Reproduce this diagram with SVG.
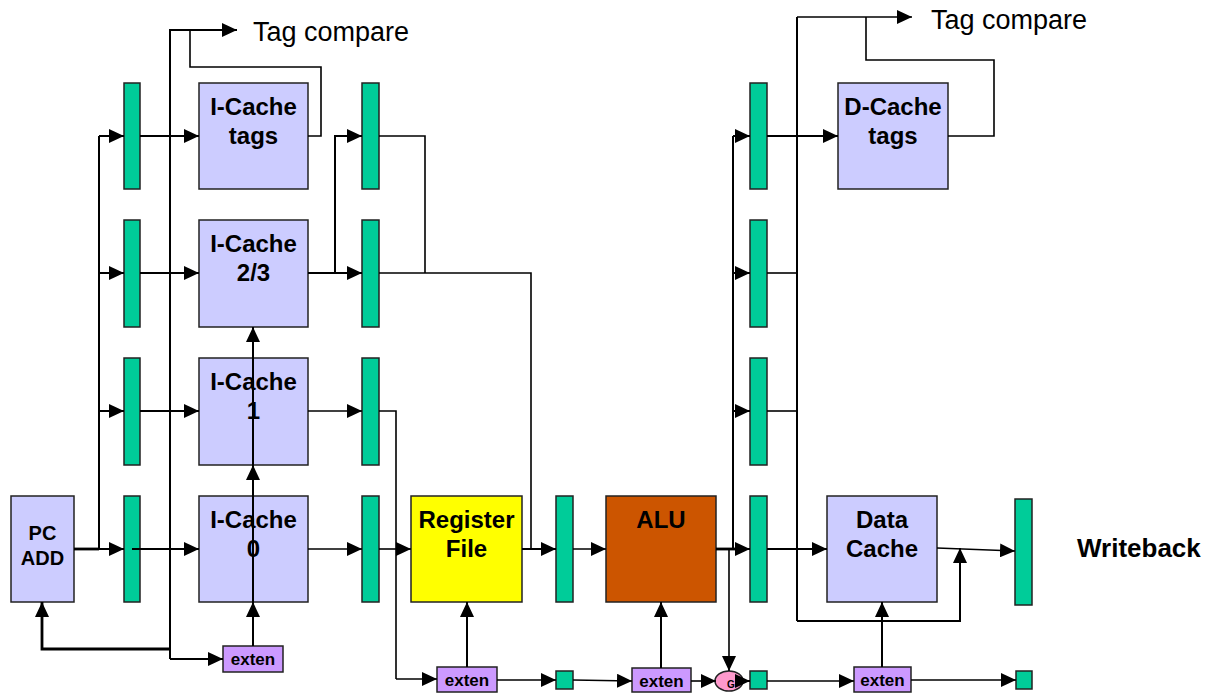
<svg xmlns="http://www.w3.org/2000/svg" width="1218" height="693" viewBox="0 0 1218 693">
<style>
.box{fill:#CCCCFF;stroke:#222;stroke-width:1.5}
.reg{fill:#00CC99;stroke:#222;stroke-width:1.5}
.rf{fill:#FFFF00;stroke:#222;stroke-width:1.5}
.alu{fill:#CC5500;stroke:#222;stroke-width:1.5}
.ext{fill:#CC99FF;stroke:#222;stroke-width:1.5}
.g{fill:#FF99CC;stroke:#222;stroke-width:1.5}
.lbl{font-family:"Liberation Sans",Arial,sans-serif;font-weight:bold;font-size:24px;text-anchor:middle;fill:#000}
.pc{font-size:20px}
.et{font-family:"Liberation Sans",Arial,sans-serif;font-weight:bold;font-size:17px;text-anchor:middle;fill:#000}
.tc{font-family:"Liberation Sans",Arial,sans-serif;font-size:27px;fill:#000}
.wb{font-family:"Liberation Sans",Arial,sans-serif;font-weight:bold;font-size:26px;fill:#000}
.w{fill:none;stroke:#000;stroke-width:2}
.t{fill:none;stroke:#000;stroke-width:1.6}
.k{fill:none;stroke:#000;stroke-width:2.8}
.a{marker-end:url(#ah)}
</style>
<defs>
<marker id="ah" markerUnits="userSpaceOnUse" markerWidth="15" markerHeight="14" refX="15" refY="7" orient="auto"><path d="M0,0 L15,7 L0,14 z" fill="#000"/></marker>
</defs>

<g id="pcadd"><rect class="box" x="11" y="496" width="63" height="106"/><text class="lbl pc" x="42.5" y="540">PC</text><text class="lbl pc" x="42.5" y="565">ADD</text></g>

<g id="reg-c1-r1"><rect class="reg" x="124" y="83" width="16" height="106"/></g>
<g id="reg-c1-r2"><rect class="reg" x="124" y="220" width="16" height="107"/></g>
<g id="reg-c1-r3"><rect class="reg" x="124" y="358" width="16" height="107"/></g>
<g id="reg-c1-r4"><rect class="reg" x="124" y="496" width="16" height="106"/></g>

<g id="icache-tags"><rect class="box" x="199" y="83" width="109" height="106"/><text class="lbl" x="253.5" y="115">I-Cache</text><text class="lbl" x="253.5" y="144">tags</text></g>
<g id="icache-23"><rect class="box" x="199" y="220" width="109" height="107"/><text class="lbl" x="253.5" y="252">I-Cache</text><text class="lbl" x="253.5" y="281">2/3</text></g>
<g id="icache-1"><rect class="box" x="199" y="358" width="109" height="107"/><text class="lbl" x="253.5" y="390">I-Cache</text><text class="lbl" x="253.5" y="419">1</text></g>
<g id="icache-0"><rect class="box" x="199" y="496" width="109" height="106"/><text class="lbl" x="253.5" y="528">I-Cache</text><text class="lbl" x="253.5" y="557">0</text></g>

<g id="exten1"><rect class="ext" x="223" y="646" width="60" height="26"/><text class="et" x="253" y="665">exten</text></g>

<g id="reg-c2-r1"><rect class="reg" x="362" y="83" width="17" height="106"/></g>
<g id="reg-c2-r2"><rect class="reg" x="362" y="220" width="17" height="107"/></g>
<g id="reg-c2-r3"><rect class="reg" x="362" y="358" width="17" height="107"/></g>
<g id="reg-c2-r4"><rect class="reg" x="362" y="496" width="17" height="106"/></g>

<g id="regfile"><rect class="rf" x="411" y="496" width="111" height="106"/><text class="lbl" x="466.5" y="528">Register</text><text class="lbl" x="466.5" y="557">File</text></g>
<g id="reg-c3"><rect class="reg" x="556" y="496" width="17" height="106"/></g>
<g id="alu"><rect class="alu" x="606" y="496" width="110" height="106"/><text class="lbl" x="661" y="528">ALU</text></g>

<g id="reg-c4-r1"><rect class="reg" x="750" y="83" width="17" height="106"/></g>
<g id="reg-c4-r2"><rect class="reg" x="750" y="220" width="17" height="107"/></g>
<g id="reg-c4-r3"><rect class="reg" x="750" y="358" width="17" height="107"/></g>
<g id="reg-c4-r4"><rect class="reg" x="750" y="496" width="17" height="106"/></g>

<g id="dcache-tags"><rect class="box" x="838" y="83" width="110" height="106"/><text class="lbl" x="893" y="115">D-Cache</text><text class="lbl" x="893" y="144">tags</text></g>
<g id="datacache"><rect class="box" x="827" y="496" width="110" height="106"/><text class="lbl" x="882" y="528">Data</text><text class="lbl" x="882" y="557">Cache</text></g>
<g id="reg-c5"><rect class="reg" x="1015" y="499" width="17" height="106"/></g>

<g id="exten2"><rect class="ext" x="437" y="667" width="60" height="25"/><text class="et" x="467" y="686">exten</text></g>
<g id="sq1"><rect class="reg" x="556" y="671" width="17" height="18"/></g>
<g id="exten3"><rect class="ext" x="632" y="668" width="59" height="24"/><text class="et" x="661.5" y="687">exten</text></g>
<g id="gate"><ellipse class="g" cx="729" cy="681" rx="14" ry="10"/><text x="731" y="688" font-family="Liberation Sans,Arial,sans-serif" font-weight="bold" font-size="10" text-anchor="middle">G</text></g>
<g id="sq2"><rect class="reg" x="750" y="671" width="17" height="18"/></g>
<g id="exten4"><rect class="ext" x="854" y="667" width="57" height="25"/><text class="et" x="882.5" y="686">exten</text></g>
<g id="sq3"><rect class="reg" x="1016" y="671" width="16" height="18"/></g>

<g id="labels">
<text class="tc" x="253" y="41">Tag compare</text>
<text class="tc" x="931" y="29">Tag compare</text>
<text class="wb" x="1077" y="557">Writeback</text>
</g>

<g id="connectors">
<path class="k" d="M74,549 H99"/>
<path class="w a" d="M99,549 H124"/>
<path class="w" d="M99,549 V136"/>
<path class="w a" d="M99,136 H124"/>
<path class="w a" d="M99,273 H124"/>
<path class="w a" d="M99,411 H124"/>
<path class="w a" d="M140,136 H199"/>
<path class="w a" d="M140,273 H199"/>
<path class="w a" d="M140,411 H199"/>
<path class="w a" d="M132,549 H199"/>
<path class="w a" d="M170,659 V30 H237"/>
<path class="w a" d="M170,659 H223"/>
<path class="k a" d="M170,649 H42 V602"/>
<path class="t" d="M308,136 H321 V67 H190 V30"/>
<path class="w a" d="M253,646 V602"/>
<path class="w a" d="M253,602 V465"/>
<path class="w a" d="M253,465 V327"/>
<path class="w a" d="M308,273 H362"/>
<path class="w a" d="M335,273 V136 H362"/>
<path class="t a" d="M308,411 H362"/>
<path class="t a" d="M308,549 H362"/>
<path class="t" d="M379,136 H425 V273"/>
<path class="t" d="M379,273 H531 V549"/>
<path class="t" d="M379,411 H396 V679"/>
<path class="t a" d="M396,679 H437"/>
<path class="t a" d="M379,549 H411"/>
<path class="w a" d="M522,549 H556"/>
<path class="t a" d="M573,549 H606"/>
<path class="k" d="M716,549 H735"/>
<path class="w a" d="M733,549 H750"/>
<path class="w" d="M733,549 V136"/>
<path class="w a" d="M733,136 H750"/>
<path class="w a" d="M733,273 H750"/>
<path class="w a" d="M733,411 H750"/>
<path class="t a" d="M729,549 V671"/>
<path class="w a" d="M767,136 H838"/>
<path class="t" d="M767,273 H797"/>
<path class="t" d="M767,411 H797"/>
<path class="w a" d="M767,549 H827"/>
<path class="w" d="M797,621 V17"/>
<path class="t a" d="M797,17 H912"/>
<path class="t" d="M948,136 H994 V60 H866 V17"/>
<path class="w a" d="M797,621 H960 V548"/>
<path class="t a" d="M937,548 L1015,551"/>
<path class="t a" d="M497,680 H556"/>
<path class="t a" d="M573,680 L632,681"/>
<path class="t a" d="M691,681 H716"/>
<path class="w a" d="M736,681 H750"/>
<path class="t a" d="M767,681 H854"/>
<path class="t a" d="M911,680 H1016"/>
<path class="w a" d="M467,667 V602"/>
<path class="w a" d="M661,668 V602"/>
<path class="w a" d="M882,667 V602"/>
</g>
</svg>
